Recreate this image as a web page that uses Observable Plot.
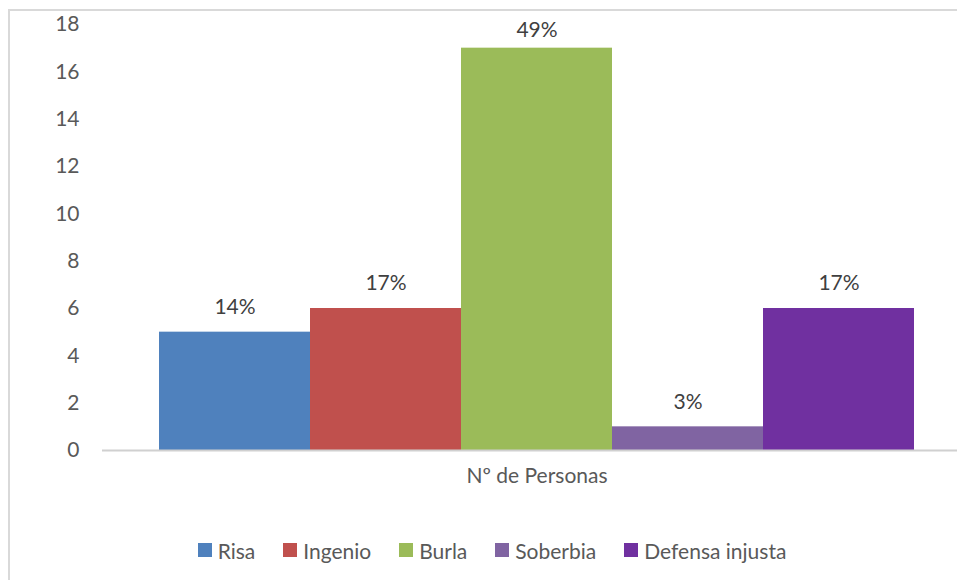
<!DOCTYPE html>
<html>
<head>
<meta charset="utf-8">
<script src="https://cdn.jsdelivr.net/npm/d3@7"></script>
<script src="https://cdn.jsdelivr.net/npm/@observablehq/plot@0.6"></script>
<style>
  html, body { margin: 0; padding: 0; background: #fff; overflow: hidden; width: 957px; height: 580px; }
  #frame { position: absolute; left: 8px; top: 9px; width: 1000px; height: 620px; border: 2px solid #d9d9d9; box-sizing: border-box; }
  #chart { position: absolute; left: 0; top: 0; width: 957px; }
  #chart svg { max-width: none; }
  #legend { position: absolute; left: 8px; top: 536px; width: 968px; height: 28px; display: flex; justify-content: center; align-items: center; gap: 28px;
            font-family: Lato, sans-serif; font-size: 21px; color: #595959; }
  .item { display: flex; align-items: center; gap: 6px; }
  .sw { width: 14px; height: 14px; display: inline-block; }
</style>
</head>
<body>
<div id="frame"></div>
<div id="chart"></div>
<div id="legend"></div>
<script>
const categories = ["Risa", "Ingenio", "Burla", "Soberbia", "Defensa injusta"];
const values = [5, 6, 17, 1, 6];
const percentLabels = ["14%", "17%", "49%", "3%", "17%"];
const colors = ["#4F81BD", "#C0504D", "#9BBB59", "#8064A2", "#7030A0"];
const yTicks = [0, 2, 4, 6, 8, 10, 12, 14, 16, 18];
const groupLabel = "Nº de Personas";

const data = categories.map((c, i) => ({category: c, value: values[i], label: percentLabels[i]}));

const plot = Plot.plot({
  width: 957,
  height: 500,
  marginLeft: 102,
  marginRight: 0,
  marginTop: 24,
  marginBottom: 50,
  style: {fontFamily: "Lato, sans-serif", fontSize: "21px", color: "#595959", background: "transparent", overflow: "visible"},
  x: {domain: categories, range: [102, 971], round: false, paddingInner: 0, paddingOuter: 0.3775, axis: null},
  y: {domain: [0, 18], ticks: yTicks, tickSize: 0, tickPadding: 23, label: null},
  color: {domain: categories, range: colors},
  marks: [
    Plot.barY(data, {x: "category", y: "value", fill: "category"}),
    Plot.ruleY([0], {stroke: "#d0d0d0", strokeWidth: 2}),
    Plot.text(data, {x: "category", y: d => Math.min(d.value, 16.7), text: "label", dy: -25, fill: "#404040", fontSize: 21}),
    Plot.text([groupLabel], {x: () => categories[2], frameAnchor: "bottom", dy: 32, text: d => d, fill: "#595959", fontSize: 21})
  ]
});
document.getElementById("chart").appendChild(plot);

const legend = document.getElementById("legend");
categories.forEach((c, i) => {
  const item = document.createElement("div");
  item.className = "item";
  const sw = document.createElement("span");
  sw.className = "sw";
  sw.style.background = colors[i];
  const t = document.createElement("span");
  t.textContent = c;
  item.appendChild(sw);
  item.appendChild(t);
  legend.appendChild(item);
});
</script>
</body>
</html>
